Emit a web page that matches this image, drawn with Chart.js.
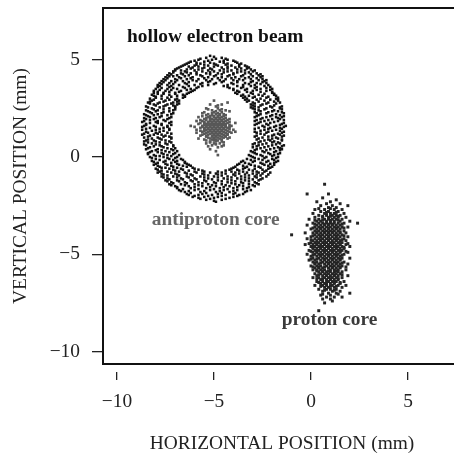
<!DOCTYPE html>
<html>
<head>
<meta charset="utf-8">
<script src="https://cdn.jsdelivr.net/npm/chart.js@4/dist/chart.umd.min.js"></script>
<style>
  html, body { margin: 0; padding: 0; overflow: hidden; background: #fff; }
  canvas { display: block; }
</style>
</head>
<body>
<canvas id="beams" width="461" height="460"></canvas>
<script>
// rows of points: [y, [x, x, ...]] in mm
const ringRows = [
  [5.2, [-5.2]],
  [5.1, [-5.4, -4.6]],
  [5.0, [-5.8, -5.1, -4.3]],
  [4.9, [-6.2, -5.5, -4.7, -3.9]],
  [4.8, [-6.4, -5.7, -5.0, -4.3, -3.6]],
  [4.7, [-6.6, -6.0, -5.3, -4.8, -4.1, -3.4]],
  [4.6, [-6.8, -6.1, -5.5, -4.6, -3.9, -3.2]],
  [4.5, [-7.0, -6.4, -5.8, -5.1, -4.5, -3.8, -3.1]],
  [4.4, [-7.1, -6.5, -5.6, -5.0, -4.3, -3.6, -3.0]],
  [4.3, [-7.3, -6.7, -6.2, -5.4, -4.8, -4.0, -3.4, -2.8]],
  [4.2, [-7.4, -6.9, -6.3, -5.7, -4.9, -4.2, -3.5, -2.7]],
  [4.1, [-7.5, -6.8, -6.1, -5.3, -4.6, -3.9, -3.2, -2.6]],
  [4.0, [-7.6, -7.0, -6.4, -5.8, -5.1, -4.4, -3.7, -3.1, -2.5]],
  [3.9, [-7.7, -7.2, -6.6, -5.9, -5.2, -4.5, -3.8, -3.0, -2.4]],
  [3.8, [-7.8, -7.3, -6.5, -5.6, -4.9, -4.1, -3.4, -2.8, -2.3]],
  [3.7, [-7.9, -7.4, -6.8, -6.0, -5.3, -4.3, -3.5, -2.9, -2.2]],
  [3.6, [-7.9, -7.3, -6.6, -5.8, -4.3, -3.5, -2.8, -2.1]],
  [3.5, [-8.0, -7.4, -6.9, -6.2, -4.0, -3.3, -2.6, -2.0]],
  [3.4, [-8.1, -7.5, -6.7, -6.1, -3.8, -3.0, -2.3]],
  [3.3, [-8.1, -7.6, -7.0, -6.3, -3.9, -3.1, -2.0]],
  [3.2, [-8.2, -7.3, -6.6, -3.5, -2.7, -1.9]],
  [3.1, [-8.0, -7.2, -6.5, -3.4, -2.9, -2.2]],
  [3.0, [-8.3, -7.7, -6.9, -3.3, -2.6, -1.8]],
  [2.9, [-8.2, -7.5, -6.8, -3.2, -2.4, -1.7]],
  [2.8, [-8.4, -7.8, -7.1, -3.0, -2.2, -1.6]],
  [2.7, [-8.1, -7.4, -6.9, -3.1, -2.5]],
  [2.6, [-8.5, -7.6, -7.0, -2.9, -2.1, -1.5]],
  [2.5, [-8.2, -7.3, -3.0, -2.3, -1.6]],
  [2.4, [-8.5, -7.9, -7.1, -2.7, -1.9]],
  [2.3, [-8.3, -7.6, -2.9, -2.2, -1.5]],
  [2.2, [-8.6, -7.9, -7.2, -2.6, -1.8]],
  [2.1, [-8.4, -7.7, -2.8, -2.1, -1.4]],
  [2.0, [-8.6, -8.0, -7.3, -2.5, -1.7]],
  [1.9, [-8.3, -7.6, -2.8, -2.2, -1.4]],
  [1.8, [-8.7, -8.0, -7.2, -2.6, -1.9]],
  [1.7, [-8.5, -7.7, -2.8, -2.3, -1.5]],
  [1.6, [-8.6, -8.1, -7.4, -2.5, -1.8, -1.3]],
  [1.5, [-8.3, -7.6, -2.7, -2.1, -1.6]],
  [1.4, [-8.7, -8.0, -7.3, -2.4, -1.8]],
  [1.3, [-8.5, -7.8, -2.9, -2.2, -1.4]],
  [1.2, [-8.6, -7.9, -7.2, -2.6, -1.7]],
  [1.1, [-8.3, -7.5, -2.8, -2.0, -1.4]],
  [1.0, [-8.6, -7.9, -7.2, -2.5, -1.8]],
  [0.9, [-8.4, -7.7, -2.8, -2.2, -1.5]],
  [0.8, [-8.6, -8.0, -7.3, -2.6, -1.9]],
  [0.7, [-8.2, -7.5, -2.9, -2.3, -1.6]],
  [0.6, [-8.5, -7.8, -7.1, -2.7, -2.0, -1.4]],
  [0.5, [-8.3, -7.6, -3.0, -2.4, -1.7]],
  [0.4, [-8.5, -7.9, -7.2, -2.8, -2.1, -1.5]],
  [0.3, [-8.2, -7.5, -6.9, -3.1, -2.5, -1.8]],
  [0.2, [-8.4, -7.7, -7.0, -2.9, -2.2, -1.6]],
  [0.1, [-8.1, -7.4, -6.8, -3.2, -2.6, -1.9]],
  [0.0, [-8.3, -7.6, -6.9, -3.0, -2.3, -1.7]],
  [-0.1, [-8.0, -7.3, -6.7, -3.3, -2.7, -2.0]],
  [-0.2, [-8.2, -7.5, -6.9, -3.5, -2.9, -2.2, -1.7]],
  [-0.3, [-7.9, -7.2, -6.5, -3.4, -2.6, -1.9]],
  [-0.4, [-8.1, -7.4, -6.8, -6.3, -3.8, -3.1, -2.4, -1.9]],
  [-0.5, [-7.8, -7.1, -6.4, -3.9, -3.3, -2.7, -2.0]],
  [-0.6, [-8.0, -7.3, -6.7, -6.0, -4.1, -3.5, -2.9, -2.2]],
  [-0.7, [-7.7, -7.0, -6.3, -5.6, -4.4, -3.7, -3.0, -2.3]],
  [-0.8, [-7.9, -7.2, -6.5, -5.9, -5.2, -4.6, -3.9, -3.3, -2.7, -2.1]],
  [-0.9, [-7.6, -6.9, -6.2, -5.5, -4.8, -4.0, -3.4, -2.8, -2.2]],
  [-1.0, [-7.7, -7.1, -6.4, -5.7, -5.0, -4.3, -3.6, -2.9, -2.3]],
  [-1.1, [-7.4, -6.7, -6.0, -5.3, -4.5, -3.8, -3.2, -2.5]],
  [-1.2, [-7.5, -6.9, -6.2, -5.5, -4.8, -4.1, -3.4, -2.7]],
  [-1.3, [-7.2, -6.5, -5.8, -5.0, -4.3, -3.6, -2.9]],
  [-1.4, [-7.3, -6.7, -6.0, -5.3, -4.6, -3.9, -3.2, -2.7]],
  [-1.5, [-7.0, -6.3, -5.6, -4.9, -4.2, -3.5, -2.9]],
  [-1.6, [-6.9, -6.2, -5.4, -4.7, -4.0, -3.3]],
  [-1.7, [-6.8, -6.0, -5.2, -4.5, -3.8, -3.1]],
  [-1.8, [-6.5, -5.7, -4.9, -4.2, -3.4]],
  [-1.9, [-6.4, -5.6, -4.8, -4.0, -3.5]],
  [-2.0, [-6.0, -5.3, -4.6, -3.8]],
  [-2.1, [-5.8, -5.0, -4.2]],
  [-2.2, [-5.4, -4.6]],
  [-2.3, [-4.9]]
];

// second pass over the ring, between the rows above
const ringRowsMid = [
  [5.15, [-5.0]],
  [5.05, [-5.7, -4.9, -4.4]],
  [4.95, [-6.0, -5.3, -4.5, -4.0]],
  [4.85, [-6.3, -5.9, -5.2, -4.5, -3.8]],
  [4.75, [-6.5, -5.9, -5.5, -4.9, -4.4, -3.7]],
  [4.65, [-6.7, -6.3, -5.8, -5.0, -4.3, -3.7, -3.3]],
  [4.55, [-6.9, -6.2, -5.6, -5.2, -4.3, -3.6, -3.3]],
  [4.45, [-7.0, -6.7, -6.0, -5.3, -4.7, -4.1, -3.4, -2.9]],
  [4.35, [-7.1, -6.4, -5.9, -5.2, -4.5, -3.8, -3.2]],
  [4.25, [-7.2, -6.6, -5.9, -5.2, -4.6, -4.0, -3.1, -2.6]],
  [4.15, [-7.3, -7.1, -6.5, -5.6, -5.0, -4.3, -3.6, -3.0, -2.5]],
  [4.05, [-7.4, -6.7, -6.2, -5.5, -4.8, -4.1, -3.4, -2.8]],
  [3.95, [-7.5, -6.9, -6.1, -5.4, -4.7, -4.0, -3.5, -2.7, -2.3]],
  [3.85, [-7.6, -7.0, -6.3, -5.3, -4.6, -3.8, -3.1, -2.5]],
  [3.75, [-7.7, -7.1, -6.4, -5.7, -5.0, -4.0, -3.2, -2.6]],
  [3.65, [-7.8, -7.2, -6.3, -5.6, -4.5, -3.8, -3.1, -2.4]],
  [3.55, [-7.7, -7.1, -6.5, -5.9, -4.2, -3.6, -2.9, -2.3]],
  [3.45, [-7.8, -7.2, -6.4, -6.0, -4.0, -3.4, -2.8, -2.1]],
  [3.35, [-7.9, -7.3, -6.8, -6.2, -3.7, -3.3, -2.6, -2.0]],
  [3.25, [-7.9, -7.6, -7.0, -6.4, -3.8, -3.0, -2.4, -1.9]],
  [3.15, [-8.1, -7.7, -6.9, -6.5, -3.6, -3.2, -2.5, -1.8]],
  [3.05, [-8.0, -7.4, -6.6, -3.5, -3.0, -2.3, -1.7]],
  [2.95, [-8.1, -7.3, -7.0, -3.4, -2.8, -2.1, -1.7]],
  [2.85, [-8.3, -7.6, -6.9, -3.3, -2.7, -1.9]],
  [2.75, [-8.3, -7.9, -7.2, -6.8, -2.9, -2.3, -1.8]],
  [2.65, [-8.0, -7.5, -7.1, -3.0, -2.6, -1.9]],
  [2.55, [-8.4, -7.8, -7.0, -3.1, -2.7, -2.0, -1.6]],
  [2.45, [-8.1, -7.6, -7.0, -2.9, -2.4, -1.5]],
  [2.35, [-8.4, -8.0, -7.3, -2.6, -2.0, -1.7]],
  [2.25, [-8.2, -7.7, -7.1, -2.8, -2.3, -1.4]],
  [2.15, [-8.5, -8.1, -7.4, -2.7, -2.0, -1.6]],
  [2.05, [-8.3, -7.8, -7.2, -2.9, -2.3, -1.8, -1.5]],
  [1.95, [-8.5, -8.1, -7.4, -2.6, -2.0, -1.6]],
  [1.85, [-8.6, -7.9, -7.5, -2.9, -2.4, -1.7]],
  [1.75, [-8.3, -7.9, -7.3, -2.7, -2.1, -1.4]],
  [1.65, [-8.5, -7.7, -7.2, -2.9, -2.2, -1.6]],
  [1.55, [-8.7, -8.0, -7.4, -2.4, -1.9, -1.4]],
  [1.45, [-8.5, -7.8, -7.3, -2.9, -2.2, -1.5]],
  [1.35, [-8.2, -7.6, -2.6, -2.0, -1.6]],
  [1.25, [-8.4, -8.0, -7.4, -2.8, -2.3, -1.5]],
  [1.15, [-8.7, -8.1, -7.7, -2.4, -1.9, -1.6]],
  [1.05, [-8.4, -7.6, -7.3, -2.9, -2.2, -1.5]],
  [0.95, [-8.2, -7.8, -7.2, -2.7, -2.0, -1.7]],
  [0.85, [-8.5, -8.1, -7.5, -2.4, -2.1, -1.5]],
  [0.75, [-8.4, -7.8, -7.2, -2.7, -2.0, -1.7]],
  [0.65, [-8.6, -8.0, -7.4, -3.0, -2.5, -1.8]],
  [0.55, [-8.1, -7.7, -7.1, -2.8, -2.2, -1.5]],
  [0.45, [-8.4, -7.4, -7.0, -2.6, -1.9, -1.6]],
  [0.35, [-8.0, -7.7, -7.1, -2.9, -2.3, -1.6]],
  [0.25, [-8.3, -7.9, -7.3, -3.0, -2.4, -1.9]],
  [0.15, [-8.4, -7.6, -7.1, -2.8, -2.1, -1.7]],
  [0.05, [-8.0, -7.8, -7.2, -3.1, -2.5, -2.0]],
  [-0.05, [-8.2, -7.4, -7.0, -2.9, -2.4, -1.8]],
  [-0.15, [-7.8, -7.1, -6.6, -3.1, -2.5, -1.9]],
  [-0.25, [-8.1, -7.6, -7.0, -6.5, -3.6, -3.0, -2.3, -1.8]],
  [-0.35, [-8.0, -7.5, -6.9, -6.4, -3.7, -3.2, -2.5, -2.1]],
  [-0.45, [-7.9, -7.2, -6.6, -6.2, -3.5, -2.9, -2.2]],
  [-0.55, [-7.7, -7.5, -6.9, -6.1, -4.0, -3.4, -2.6, -2.1]],
  [-0.65, [-7.9, -7.1, -6.6, -5.8, -4.2, -3.8, -3.2, -2.5]],
  [-0.75, [-7.8, -7.4, -6.8, -6.0, -5.5, -4.8, -4.1, -3.5, -2.8, -2.4]],
  [-0.85, [-7.7, -7.0, -6.4, -5.6, -4.9, -4.4, -3.7, -3.0, -2.5]],
  [-0.95, [-7.4, -6.8, -6.1, -5.3, -4.6, -3.9, -3.2, -2.6]],
  [-1.05, [-7.6, -6.9, -6.3, -5.5, -4.8, -4.1, -3.4, -2.8]],
  [-1.15, [-7.3, -6.6, -5.9, -5.1, -4.3, -3.6, -3.0, -2.6]],
  [-1.25, [-7.4, -6.8, -6.1, -5.4, -4.6, -3.9, -3.2]],
  [-1.35, [-7.1, -6.4, -5.6, -4.9, -4.1, -3.5, -2.8]],
  [-1.45, [-7.2, -6.5, -5.8, -5.1, -4.4, -3.7, -3.0]],
  [-1.55, [-6.9, -6.0, -5.2, -4.5, -3.8, -3.2]],
  [-1.65, [-6.6, -5.8, -5.0, -4.3, -3.5]],
  [-1.75, [-6.7, -6.3, -5.5, -4.7, -4.0, -3.3]],
  [-1.85, [-6.2, -5.4, -4.6, -3.9]],
  [-1.95, [-6.3, -5.8, -5.1, -4.4, -3.7]],
  [-2.05, [-6.1, -5.5, -4.8, -4.0]],
  [-2.15, [-5.7, -5.2, -4.4]],
  [-2.25, [-5.0]]
];

const antiprotonRows = [
  [2.9, [-5.0]],
  [2.8, [-4.3]],
  [2.7, [-5.2, -4.6]],
  [2.6, [-4.9]],
  [2.5, [-5.4, -4.8]],
  [2.4, [-5.1, -4.7, -4.4]],
  [2.3, [-5.5, -5.0, -4.6]],
  [2.2, [-5.3, -4.9, -4.7, -4.5]],
  [2.1, [-5.6, -5.2, -5.0, -4.8, -4.5]],
  [2.0, [-5.4, -5.2, -4.9, -4.7, -4.4]],
  [1.9, [-5.7, -5.4, -5.2, -5.0, -4.8, -4.6, -4.3]],
  [1.8, [-5.5, -5.3, -5.1, -4.9, -4.7, -4.5, -4.2]],
  [1.7, [-5.8, -5.4, -5.2, -5.0, -4.8, -4.6, -4.4]],
  [1.6, [-6.2, -5.6, -5.4, -5.2, -5.0, -4.8, -4.6, -4.4, -4.1]],
  [1.5, [-5.7, -5.5, -5.3, -5.1, -4.9, -4.7, -4.5, -4.3]],
  [1.4, [-5.9, -5.4, -5.2, -5.0, -4.8, -4.6, -4.4, -4.0]],
  [1.3, [-5.6, -5.3, -5.1, -4.9, -4.7, -4.5, -4.2, -3.9]],
  [1.2, [-5.5, -5.2, -5.0, -4.8, -4.6, -4.3]],
  [1.1, [-5.7, -5.4, -5.1, -4.9, -4.7, -4.4]],
  [1.0, [-5.3, -5.0, -4.8, -4.5, -4.2]],
  [0.9, [-5.5, -5.1, -4.9, -4.6]],
  [0.8, [-5.2, -4.9, -4.6]],
  [0.7, [-5.4, -5.0, -4.7]],
  [0.6, [-5.1, -4.5]],
  [0.5, [-4.8]],
  [0.4, [-5.2]],
  [0.3, [-4.9]],
  [0.1, [-4.8]]
];

const antiprotonRowsMid = [
  [2.65, [-4.8]],
  [2.45, [-5.3, -4.6]],
  [2.35, [-4.9, -4.2]],
  [2.25, [-5.6, -5.1, -4.8]],
  [2.15, [-5.4, -5.1, -4.7, -4.4]],
  [2.05, [-5.8, -5.3, -5.0, -4.8, -4.6]],
  [1.95, [-5.5, -5.1, -4.9, -4.7, -4.5, -4.2]],
  [1.85, [-5.9, -5.6, -5.2, -5.0, -4.8, -4.6, -4.4]],
  [1.75, [-5.7, -5.5, -5.3, -5.1, -4.9, -4.7, -4.5, -4.3, -3.9]],
  [1.65, [-5.5, -5.3, -5.1, -4.9, -4.7, -4.5, -4.2]],
  [1.55, [-6.0, -5.6, -5.4, -5.2, -5.0, -4.8, -4.6, -4.4, -4.2]],
  [1.45, [-5.5, -5.3, -5.1, -4.9, -4.7, -4.5, -4.2]],
  [1.35, [-5.7, -5.5, -5.2, -5.0, -4.8, -4.6, -4.3]],
  [1.25, [-5.9, -5.4, -5.1, -4.9, -4.7, -4.4, -4.1]],
  [1.15, [-5.6, -5.3, -5.0, -4.8, -4.5, -4.3]],
  [1.05, [-5.4, -5.1, -4.9, -4.6, -4.4]],
  [0.95, [-5.8, -5.2, -5.0, -4.7, -4.3]],
  [0.85, [-5.4, -5.0, -4.8]],
  [0.75, [-5.2, -4.5]],
  [0.65, [-4.9]],
  [0.55, [-5.3, -4.6]]
];

const protonRows = [
  [-1.4, [0.7]],
  [-1.9, [-0.2, 0.9]],
  [-2.1, [0.6]],
  [-2.2, [1.3]],
  [-2.3, [0.3, 1.0]],
  [-2.4, [0.8, 1.5]],
  [-2.5, [0.5, 1.1, 1.9]],
  [-2.6, [0.9, 1.3]],
  [-2.7, [0.2, 0.7, 1.2, 1.6]],
  [-2.8, [0.5, 0.9, 1.4]],
  [-2.9, [0.1, 0.7, 1.0, 1.2, 1.7]],
  [-3.0, [0.4, 0.8, 1.1, 1.3, 1.5]],
  [-3.1, [0.2, 0.6, 0.9, 1.2, 1.4, 1.8]],
  [-3.2, [-0.1, 0.4, 0.7, 0.9, 1.1, 1.3, 1.6]],
  [-3.3, [0.3, 0.5, 0.8, 1.0, 1.2, 1.5, 2.0]],
  [-3.4, [0.1, 0.4, 0.6, 0.8, 1.0, 1.2, 1.4, 1.7, 2.4]],
  [-3.5, [-0.2, 0.3, 0.5, 0.7, 0.9, 1.1, 1.3, 1.5]],
  [-3.6, [0.2, 0.4, 0.6, 0.8, 1.0, 1.2, 1.4, 1.6, 1.9]],
  [-3.7, [0.0, 0.3, 0.5, 0.7, 0.9, 1.1, 1.3, 1.5]],
  [-3.8, [0.2, 0.4, 0.6, 0.8, 1.0, 1.2, 1.4, 1.7]],
  [-3.9, [-0.3, 0.1, 0.3, 0.5, 0.7, 0.9, 1.1, 1.3, 1.5, 1.8]],
  [-4.0, [-1.0, 0.2, 0.4, 0.6, 0.8, 1.0, 1.2, 1.4, 1.6]],
  [-4.1, [0.0, 0.3, 0.5, 0.7, 0.9, 1.1, 1.3, 1.5, 1.9]],
  [-4.2, [-0.2, 0.2, 0.4, 0.6, 0.8, 1.0, 1.2, 1.4, 1.7]],
  [-4.3, [0.1, 0.3, 0.5, 0.7, 0.9, 1.1, 1.3, 1.5, 1.8]],
  [-4.4, [0.0, 0.2, 0.4, 0.6, 0.8, 1.0, 1.2, 1.4, 1.6]],
  [-4.5, [-0.3, 0.1, 0.3, 0.5, 0.7, 0.9, 1.1, 1.3, 1.5, 1.8]],
  [-4.6, [0.0, 0.2, 0.4, 0.6, 0.8, 1.0, 1.2, 1.4, 1.6, 2.0]],
  [-4.7, [0.1, 0.3, 0.5, 0.7, 0.9, 1.1, 1.3, 1.5, 1.7]],
  [-4.8, [-0.1, 0.2, 0.4, 0.6, 0.8, 1.0, 1.2, 1.4, 1.6]],
  [-4.9, [0.1, 0.3, 0.5, 0.7, 0.9, 1.1, 1.3, 1.5, 1.9]],
  [-5.0, [-0.2, 0.2, 0.4, 0.6, 0.8, 1.0, 1.2, 1.4, 1.7]],
  [-5.1, [0.0, 0.3, 0.5, 0.7, 0.9, 1.1, 1.3, 1.5]],
  [-5.2, [0.1, 0.4, 0.6, 0.8, 1.0, 1.2, 1.4, 1.6, 2.0]],
  [-5.3, [-0.1, 0.2, 0.5, 0.7, 0.9, 1.1, 1.3, 1.5]],
  [-5.4, [0.1, 0.3, 0.6, 0.8, 1.0, 1.2, 1.4, 1.7]],
  [-5.5, [0.2, 0.4, 0.7, 0.9, 1.1, 1.3, 1.5, 1.9]],
  [-5.6, [0.0, 0.3, 0.5, 0.8, 1.0, 1.2, 1.4, 1.6]],
  [-5.7, [0.2, 0.4, 0.6, 0.9, 1.1, 1.3, 1.5]],
  [-5.8, [0.1, 0.3, 0.5, 0.7, 1.0, 1.2, 1.4, 1.8]],
  [-5.9, [0.4, 0.6, 0.8, 1.0, 1.2, 1.4, 1.6]],
  [-6.0, [0.2, 0.5, 0.7, 0.9, 1.1, 1.3, 1.5]],
  [-6.1, [0.3, 0.6, 0.8, 1.0, 1.2, 1.4, 1.9]],
  [-6.2, [0.1, 0.4, 0.7, 0.9, 1.1, 1.3, 1.6]],
  [-6.3, [0.5, 0.8, 1.0, 1.2, 1.4]],
  [-6.4, [0.3, 0.6, 0.9, 1.1, 1.3, 1.7]],
  [-6.5, [0.5, 0.7, 1.0, 1.2, 1.5]],
  [-6.6, [0.2, 0.6, 0.8, 1.1, 1.4, 1.8]],
  [-6.7, [0.7, 0.9, 1.2, 1.6]],
  [-6.8, [0.4, 0.8, 1.0, 1.3]],
  [-6.9, [0.6, 1.1, 1.5]],
  [-7.0, [0.9, 1.3, 2.0]],
  [-7.1, [0.5, 1.0]],
  [-7.2, [0.8, 1.2, 1.6]],
  [-7.3, [0.6, 1.0]],
  [-7.4, [1.1]],
  [-7.5, [0.7]],
  [-7.9, [0.4]]
];

const protonRowsMid = [
  [-2.65, [0.4, 1.0]],
  [-2.85, [0.8, 1.3]],
  [-3.05, [0.6, 1.0, 1.4]],
  [-3.25, [0.2, 0.6, 1.0, 1.4]],
  [-3.45, [0.2, 0.7, 0.9, 1.1, 1.6]],
  [-3.65, [0.1, 0.5, 0.9, 1.3, 1.7]],
  [-3.85, [0.3, 0.7, 0.9, 1.1, 1.5]],
  [-4.05, [0.1, 0.5, 0.9, 1.3, 1.7]],
  [-4.25, [0.0, 0.5, 0.9, 1.3, 1.6]],
  [-4.45, [-0.1, 0.3, 0.7, 1.1, 1.5, 1.9]],
  [-4.65, [0.1, 0.5, 0.9, 1.3, 1.7]],
  [-4.85, [0.0, 0.3, 0.7, 1.1, 1.5, 1.8]],
  [-5.05, [0.1, 0.5, 0.9, 1.3, 1.6]],
  [-5.25, [0.0, 0.3, 0.7, 1.1, 1.5]],
  [-5.45, [0.2, 0.5, 0.9, 1.3, 1.6]],
  [-5.65, [0.1, 0.4, 0.7, 1.1, 1.5, 1.8]],
  [-5.85, [0.3, 0.6, 0.9, 1.3]],
  [-6.05, [0.4, 0.8, 1.2, 1.6]],
  [-6.25, [0.3, 0.6, 1.0, 1.4]],
  [-6.45, [0.4, 0.8, 1.2, 1.5]],
  [-6.65, [0.5, 1.0, 1.3]],
  [-6.85, [0.7, 1.2]],
  [-7.05, [0.6, 1.4]]
];

const xTicks = [-10, -5, 0, 5];
const yTicks = [-10, -5, 0, 5];

const noteText = ['hollow electron beam', 'antiproton core', 'proton core'];
const noteX = [-9.48, -8.21, -1.51];
const noteY = [5.89, -3.52, -8.64];
const noteColor = ['#111', '#666', '#3a3a3a'];

const serif = '"Liberation Serif", "Times New Roman", Times, serif';
const fontSize = 19.4;

function toPoints(rows) {
  return rows.flatMap(([y, xs]) => xs.map(x => ({ x: x, y: y })));
}

function minusLabel(v) {
  return v < 0 ? '\u2212' + Math.abs(v) : String(v);
}

const frame = {
  id: 'frame',
  afterDraw(chart) {
    const { ctx, chartArea: a, scales } = chart;
    ctx.save();
    ctx.strokeStyle = '#111';
    ctx.lineWidth = 2;
    ctx.strokeRect(a.left, a.top, a.right - a.left, a.bottom - a.top);
    ctx.font = 'bold ' + fontSize + 'px ' + serif;
    ctx.textAlign = 'left';
    ctx.textBaseline = 'alphabetic';
    noteText.forEach((t, i) => {
      ctx.fillStyle = noteColor[i];
      ctx.fillText(t, scales.x.getPixelForValue(noteX[i]), scales.y.getPixelForValue(noteY[i]));
    });
    ctx.restore();
  }
};

const dot = { borderWidth: 0, pointStyle: 'rect', pointRadius: 1.8 };

new Chart(document.getElementById('beams'), {
  type: 'scatter',
  data: {
    datasets: [
      { ...dot, label: 'hollow electron beam', data: toPoints(ringRows.concat(ringRowsMid)), backgroundColor: '#111' },
      { ...dot, label: 'antiproton core', data: toPoints(antiprotonRows.concat(antiprotonRowsMid)), backgroundColor: '#585858', pointRadius: 1.9 },
      { ...dot, label: 'proton core', data: toPoints(protonRows.concat(protonRowsMid)), backgroundColor: '#242424', pointRadius: 2.1 }
    ]
  },
  options: {
    responsive: false,
    animation: false,
    events: [],
    layout: { autoPadding: false, padding: { top: 8, left: 0, right: 0, bottom: 0 } },
    plugins: { legend: { display: false }, tooltip: { enabled: false } },
    scales: {
      x: {
        type: 'linear',
        position: 'bottom',
        min: -10.72,
        max: 7.73,
        afterFit: s => { s.height = 96; s.paddingLeft = 0; s.paddingRight = 0; },
        afterBuildTicks: s => { s.ticks = xTicks.map(v => ({ value: v })); },
        border: { display: false },
        grid: {
          drawOnChartArea: false,
          tickLength: 16,
          tickColor: '#222',
          lineWidth: 1.3,
          tickBorderDash: [0, 8, 8, 100]
        },
        ticks: {
          autoSkip: false,
          maxRotation: 0,
          padding: 10,
          color: '#222',
          font: { family: serif, size: fontSize },
          callback: v => minusLabel(v)
        },
        title: {
          display: true,
          text: 'HORIZONTAL POSITION (mm)',
          color: '#222',
          font: { family: serif, size: fontSize },
          padding: { top: 0, bottom: 4 }
        }
      },
      y: {
        type: 'linear',
        min: -10.64,
        max: 7.66,
        afterFit: s => { s.width = 103; s.paddingTop = 0; s.paddingBottom = 0; },
        afterBuildTicks: s => { s.ticks = yTicks.map(v => ({ value: v })); },
        border: { display: false },
        grid: {
          drawOnChartArea: false,
          tickLength: 11,
          tickColor: '#222',
          lineWidth: 1.3
        },
        ticks: {
          autoSkip: false,
          padding: 12,
          color: '#222',
          font: { family: serif, size: fontSize },
          callback: v => minusLabel(v)
        },
        title: {
          display: true,
          text: 'VERTICAL POSITION (mm)',
          color: '#222',
          font: { family: serif, size: fontSize },
          padding: { top: 9, bottom: 0 }
        }
      }
    }
  },
  plugins: [frame]
});
</script>
</body>
</html>
